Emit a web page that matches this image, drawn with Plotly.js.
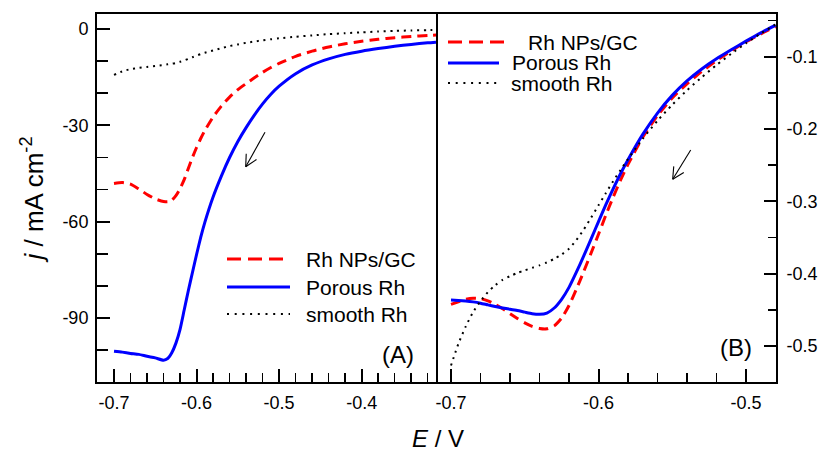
<!DOCTYPE html>
<html><head><meta charset="utf-8">
<script src="https://cdn.plot.ly/plotly-3.0.1.min.js"></script>
<style>html,body{margin:0;padding:0;background:#fff}#chart{width:821px;height:454px}</style>
</head><body><div id="chart"></div>
<script>
// ---- Panel (A) data ----
const E_A = [-0.70,-0.69,-0.68,-0.67,-0.66,-0.65,-0.64,-0.635,-0.63,-0.625,-0.62,-0.615,-0.61,-0.605,-0.60,-0.595,-0.59,-0.58,-0.57,-0.56,-0.55,-0.54,-0.53,-0.52,-0.51,-0.50,-0.48,-0.46,-0.44,-0.42,-0.40,-0.38,-0.36,-0.34,-0.32,-0.31];
const j_porous_A = [-100.3,-100.6,-101.0,-101.3,-101.9,-102.4,-103.1,-102.6,-100.8,-97.8,-93.5,-87.5,-81.5,-75.8,-70.2,-64.9,-60.2,-52.3,-45.8,-40.0,-35.0,-30.7,-26.8,-23.3,-20.3,-17.8,-13.9,-11.2,-9.3,-7.9,-6.9,-6.1,-5.4,-4.8,-4.3,-4.1];
const j_nps_A = [-48.1,-47.8,-48.3,-49.8,-51.5,-52.9,-53.7,-53.8,-53.3,-51.9,-49.7,-46.9,-43.4,-40.0,-36.9,-34.1,-31.6,-27.4,-24.0,-21.2,-18.9,-17.0,-15.2,-13.5,-12.0,-10.7,-8.5,-6.9,-5.6,-4.6,-3.8,-3.2,-2.7,-2.3,-2.0,-1.9];
const j_smooth_A = [-14.3,-13.2,-12.5,-12.1,-11.8,-11.5,-11.2,-11.0,-10.8,-10.6,-10.2,-9.8,-9.3,-8.8,-8.3,-7.8,-7.4,-6.7,-6.0,-5.3,-4.8,-4.3,-3.9,-3.5,-3.2,-2.9,-2.4,-2.0,-1.6,-1.3,-1.05,-0.8,-0.6,-0.45,-0.35,-0.3];

// ---- Panel (B) data ----
const E_B = [-0.70,-0.695,-0.69,-0.685,-0.68,-0.675,-0.67,-0.665,-0.66,-0.655,-0.65,-0.645,-0.64,-0.635,-0.63,-0.625,-0.62,-0.615,-0.61,-0.605,-0.60,-0.595,-0.59,-0.585,-0.58,-0.57,-0.56,-0.55,-0.54,-0.53,-0.52,-0.51,-0.50,-0.49,-0.48];
const j_porous_B = [-0.4365,-0.437,-0.4378,-0.439,-0.4408,-0.4432,-0.4455,-0.4475,-0.4492,-0.451,-0.4532,-0.4553,-0.4562,-0.4545,-0.4475,-0.4355,-0.419,-0.398,-0.3755,-0.352,-0.328,-0.3045,-0.2825,-0.2615,-0.2425,-0.2075,-0.178,-0.1535,-0.1335,-0.117,-0.103,-0.0905,-0.0785,-0.067,-0.0565];
const j_nps_B = [-0.4425,-0.439,-0.4355,-0.434,-0.4345,-0.4375,-0.4425,-0.4485,-0.4555,-0.4620,-0.4680,-0.4728,-0.4757,-0.4762,-0.4722,-0.4615,-0.4440,-0.4215,-0.397,-0.3715,-0.3455,-0.319,-0.294,-0.2705,-0.249,-0.2115,-0.1815,-0.157,-0.1375,-0.1205,-0.1055,-0.092,-0.0795,-0.0685,-0.0585];
const j_smooth_B = [-0.527,-0.497,-0.473,-0.453,-0.438,-0.4255,-0.416,-0.4085,-0.4035,-0.399,-0.3955,-0.392,-0.3885,-0.3845,-0.3795,-0.3735,-0.3655,-0.3535,-0.339,-0.3225,-0.3055,-0.2885,-0.272,-0.2565,-0.2415,-0.2135,-0.1885,-0.1665,-0.1465,-0.1285,-0.1115,-0.096,-0.0815,-0.068,-0.0555];

// ---- Series names ----
const seriesNames = ['Rh NPs/GC', 'Porous Rh', 'smooth Rh'];

// ---- Ticks ----
const xTickValsA = [-0.7,-0.6,-0.5,-0.4];
const xTickTextA = ['-0.7','-0.6','-0.5','-0.4'];
const xMinorA = [-0.68,-0.66,-0.64,-0.62,-0.58,-0.56,-0.54,-0.52,-0.48,-0.46,-0.44,-0.42,-0.38,-0.36,-0.34,-0.32];
const yTickValsA = [0,-30,-60,-90];
const yTickTextA = ['0','-30','-60','-90'];
const yMinorA = [-10,-20,-40,-50,-70,-80,-100];
const xTickValsB = [-0.7,-0.6,-0.5];
const xTickTextB = ['-0.7','-0.6','-0.5'];
const xMinorB = [-0.68,-0.66,-0.64,-0.62,-0.58,-0.56,-0.54,-0.52];
const yTickValsB = [-0.1,-0.2,-0.3,-0.4,-0.5];
const yTickTextB = ['-0.1','-0.2','-0.3','-0.4','-0.5'];
const yMinorB = [-0.05,-0.15,-0.25,-0.35,-0.45];

const FONT = 'Liberation Sans, Arial, Helvetica, sans-serif';
const RED = '#ff0000', BLUE = '#0000ff', BLACK = '#000000';
const W = 821, H = 454, ML = 97, MR = 45, MT = 14, MB = 72;
const PW = W - ML - MR, PH = H - MT - MB;
const SPLIT = (436 - ML) / PW;
const px = v => (v - ML) / PW;
const py = v => (H - MB - v) / PH;

const styles = [
  {color: RED, width: 3, dash: '10px,6px'},
  {color: BLUE, width: 3, dash: 'solid'},
  {color: BLACK, width: 2, dash: '2px,4.7px'}
];

function tr(x, y, i, xa, ya) {
  return {x: x, y: y, type: 'scatter', mode: 'lines', name: seriesNames[i],
    xaxis: xa, yaxis: ya, hoverinfo: 'skip', showlegend: false,
    line: {color: styles[i].color, width: styles[i].width, dash: styles[i].dash, shape: 'spline', smoothing: 0.6}};
}

const data = [
  tr(E_A, j_nps_A, 0, 'x', 'y'),
  tr(E_A, j_porous_A, 1, 'x', 'y'),
  tr(E_A, j_smooth_A, 2, 'x', 'y'),
  tr(E_B, j_nps_B, 0, 'x2', 'y2'),
  tr(E_B, j_porous_B, 1, 'x2', 'y2'),
  tr(E_B, j_smooth_B, 2, 'x2', 'y2')
];

function axisBase(extra) {
  return Object.assign({
    showline: true, linewidth: 2, linecolor: '#000', mirror: true,
    showgrid: false, zeroline: false, ticks: 'inside', tickwidth: 2, tickcolor: '#000',
    tickmode: 'array', tickfont: {family: FONT, size: 18, color: '#000'}
  }, extra);
}

const legendSamplesA = [
  {x0: 227, x1: 284, y: 259, dash: '14px,7px'},
  {x0: 227, x1: 290, y: 287, dash: 'solid'},
  {x0: 227, x1: 290, y: 314, dash: '2px,5.7px'}
];
const legendTextA = [{x: 305, y: 259}, {x: 305, y: 287}, {x: 305, y: 314}];
const legendSamplesB = [
  {x0: 448, x1: 505, y: 42, dash: '14px,7px'},
  {x0: 448, x1: 499, y: 63, dash: 'solid'},
  {x0: 448, x1: 499, y: 83, dash: '2px,5.7px'}
];
const legendTextB = [{x: 527, y: 42}, {x: 510.5, y: 63}, {x: 510, y: 83}];

const shapes = [];
const annotations = [];
[[legendSamplesA, legendTextA], [legendSamplesB, legendTextB]].forEach(([samples, texts]) => {
  samples.forEach((s, i) => {
    shapes.push({type: 'line', xref: 'paper', yref: 'paper', x0: px(s.x0), x1: px(s.x1), y0: py(s.y), y1: py(s.y),
      line: {color: styles[i].color, width: styles[i].width, dash: s.dash}});
    annotations.push({xref: 'paper', yref: 'paper', x: px(texts[i].x), y: py(texts[i].y), xanchor: 'left', yanchor: 'middle',
      text: seriesNames[i], showarrow: false, borderpad: 0, font: {family: FONT, size: 21, color: '#000'}});
  });
});

// Scan-direction arrows (open V heads), in pixel positions of the frame
const arrows = [
  {tail: [265, 132.3], head: [245.7, 166.7]},
  {tail: [690.7, 150], head: [672.7, 179.3]}
];
arrows.forEach(a => {
  const dx = a.tail[0] - a.head[0], dy = a.tail[1] - a.head[1];
  const L = Math.hypot(dx, dy), ux = dx / L, uy = dy / L;
  const arm = 13, ang = 27 * Math.PI / 180;
  const lineStyle = {color: '#000', width: 1.1};
  shapes.push({type: 'line', xref: 'paper', yref: 'paper', x0: px(a.tail[0]), y0: py(a.tail[1]), x1: px(a.head[0]), y1: py(a.head[1]), line: lineStyle});
  [ang, -ang].forEach(t => {
    const rx = ux * Math.cos(t) - uy * Math.sin(t), ry = ux * Math.sin(t) + uy * Math.cos(t);
    shapes.push({type: 'line', xref: 'paper', yref: 'paper', x0: px(a.head[0]), y0: py(a.head[1]),
      x1: px(a.head[0] + arm * rx), y1: py(a.head[1] + arm * ry), line: lineStyle});
  });
});

annotations.push(
  {xref: 'paper', yref: 'paper', x: px(398), y: py(354), xanchor: 'center', yanchor: 'middle', text: '(A)', showarrow: false, font: {family: FONT, size: 24, color: '#000'}},
  {xref: 'paper', yref: 'paper', x: px(735.5), y: py(347.5), xanchor: 'center', yanchor: 'middle', text: '(B)', showarrow: false, font: {family: FONT, size: 24, color: '#000'}},
  {xref: 'paper', yref: 'paper', x: px(437.5), y: py(453), xanchor: 'center', yanchor: 'bottom', text: '<i>E</i> / V', showarrow: false, borderpad: 0, font: {family: FONT, size: 24, color: '#000'}}
);

const layout = {
  width: W, height: H,
  margin: {l: ML, r: MR, t: MT, b: MB, pad: 0},
  paper_bgcolor: '#fff', plot_bgcolor: '#fff',
  showlegend: false, hovermode: false,
  font: {family: FONT, size: 18, color: '#000'},
  xaxis: axisBase({domain: [0, SPLIT], range: [-0.7206, -0.31], anchor: 'y', ticklen: 13,
    tickvals: xTickValsA, ticktext: xTickTextA, ticklabelstandoff: 3,
    minor: {tickmode: 'array', tickvals: xMinorA, ticks: 'inside', ticklen: 9, tickwidth: 1.5, tickcolor: '#000'}}),
  yaxis: axisBase({domain: [0, 1], range: [-109.9, 4.67], anchor: 'x', ticklen: 13,
    tickvals: yTickValsA, ticktext: yTickTextA, ticklabelstandoff: 3,
    minor: {tickmode: 'array', tickvals: yMinorA, ticks: 'inside', ticklen: 11, tickwidth: 1.5, tickcolor: '#000'},
    title: {text: '<i>j</i> / mA cm<sup>-2</sup>', font: {family: FONT, size: 26, color: '#000'}, standoff: 11}}),
  xaxis2: axisBase({domain: [SPLIT, 1], range: [-0.71017, -0.47966], anchor: 'y2', ticklen: 13,
    tickvals: xTickValsB, ticktext: xTickTextB, ticklabelstandoff: 3,
    minor: {tickmode: 'array', tickvals: xMinorB, ticks: 'inside', ticklen: 9, tickwidth: 1.5, tickcolor: '#000'}}),
  yaxis2: axisBase({domain: [0, 1], range: [-0.5498, -0.041], anchor: 'x2', side: 'right', mirror: false, ticklen: 12,
    tickvals: yTickValsB, ticktext: yTickTextB, ticklabelstandoff: 5,
    minor: {tickmode: 'array', tickvals: yMinorB, ticks: 'inside', ticklen: 8, tickwidth: 1.5, tickcolor: '#000'}}),
  shapes: shapes,
  annotations: annotations
};

Plotly.newPlot('chart', data, layout, {displayModeBar: false, staticPlot: true});
</script></body></html>
